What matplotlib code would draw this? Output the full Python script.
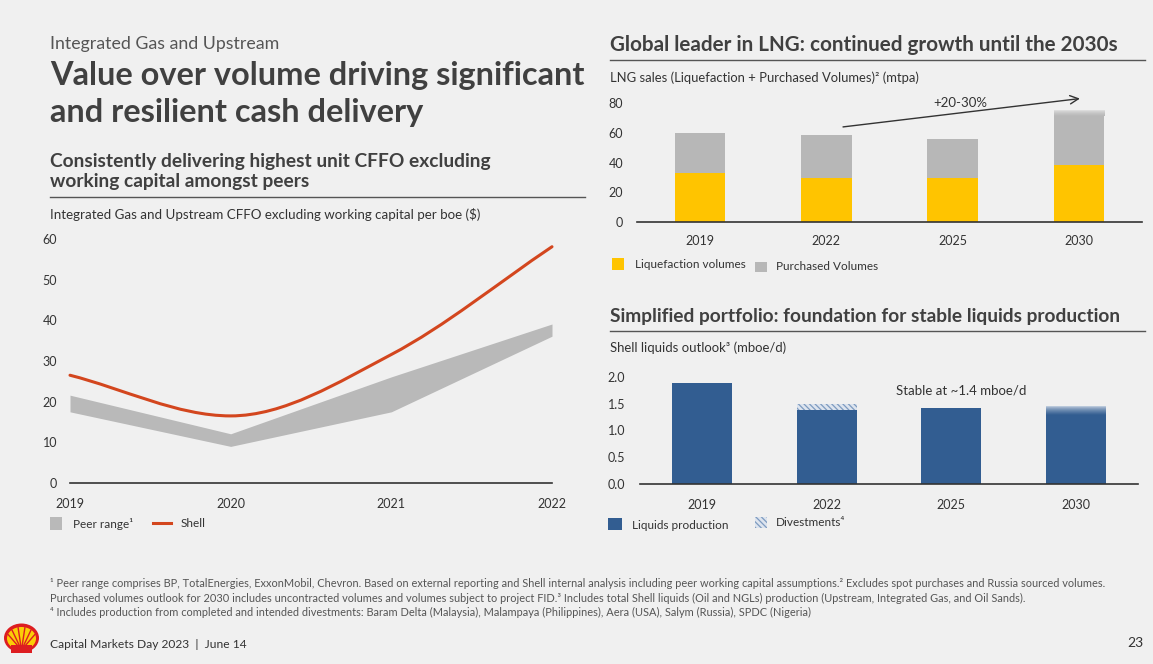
import numpy as np
import matplotlib
matplotlib.use('Agg')
import matplotlib.pyplot as plt
from matplotlib.path import Path
from matplotlib.patches import PathPatch, Rectangle, Ellipse
from matplotlib.colors import to_rgb

plt.rcParams['font.family'] = ['Lato', 'DejaVu Sans']
plt.rcParams['hatch.linewidth'] = 0.9

# ── Data ──────────────────────────────────────────────────────────────────────
cffo_years = [2019, 2020, 2021, 2022]
shell_cffo = [26.5, 16.5, 31.6, 58.1]
peer_low = [17.5, 9.0, 17.5, 36.1]
peer_high = [21.6, 12.1, 26.1, 39.1]
cffo_yticks = [0, 10, 20, 30, 40, 50, 60]

lng_years = ['2019', '2022', '2025', '2030']
lng_liquefaction = [32.9, 29.4, 29.8, 38.1]
lng_purchased = [26.9, 28.9, 26.0, 33.0]
lng_purchased_upside = [0, 0, 0, 4.0]      # faded top of the 2030 bar
lng_yticks = [0, 20, 40, 60, 80]

liq_years = ['2019', '2022', '2025', '2030']
liq_production = [1.88, 1.38, 1.42, 1.29]
liq_divestments = [0, 0.12, 0, 0]
liq_upside = [0, 0, 0, 0.16]               # faded top of the 2030 bar
liq_yticks = [0.0, 0.5, 1.0, 1.5, 2.0]

# ── Colours ───────────────────────────────────────────────────────────────────
BG = '#f0f0f0'
TXT = '#404040'
DARK = '#333333'
NOTE = '#555555'
RED = '#d3461e'
PEER = '#b9b9b9'
YELLOW = '#ffc400'
GREY = '#b7b7b7'
BLUE = '#325d91'
HATCH_FC = '#dde4ee'
HATCH_EC = '#7d9bc0'
LEGEND_FS = 8.5

W, H = 1153, 664
fig = plt.figure(figsize=(W / 100, H / 100), dpi=100, facecolor=BG)
renderer = fig.canvas.get_renderer()

# full-figure axes in pixel coordinates for text and decorations
bg = fig.add_axes([0, 0, 1, 1])
bg.set_xlim(0, W)
bg.set_ylim(H, 0)
bg.axis('off')


def px_axes(x0, y0, x1, y1):
    ax = fig.add_axes([x0 / W, 1 - y1 / H, (x1 - x0) / W, (y1 - y0) / H])
    ax.set_facecolor('none')
    for s in ['top', 'right', 'left']:
        ax.spines[s].set_visible(False)
    ax.spines['bottom'].set_color(DARK)
    ax.spines['bottom'].set_linewidth(1.2)
    ax.tick_params(length=0, labelsize=9, labelcolor=DARK)
    return ax


def fit_width(t, width):
    w = t.get_window_extent(renderer).width
    t.set_fontsize(t.get_fontsize() * width / w)
    return t


def txt(x, y, s, size=9.5, weight='normal', color=TXT, ha='left', va='baseline', fit=None):
    t = bg.text(x, y, s, fontsize=size, fontweight=weight, color=color, ha=ha, va=va)
    if fit:
        fit_width(t, fit)
    return t


def rule(x0, x1, y):
    bg.plot([x0, x1], [y, y], color='#555555', lw=1)


def smooth_path(x, y):
    # piecewise cubic through the points, flat at local extrema
    x = np.asarray(x, float)
    y = np.asarray(y, float)
    n = len(x)
    m = np.empty(n)
    m[0] = (y[1] - y[0]) / (x[1] - x[0])
    m[-1] = (y[-1] - y[-2]) / (x[-1] - x[-2])
    for i in range(1, n - 1):
        if (y[i] - y[i - 1]) * (y[i + 1] - y[i]) <= 0:
            m[i] = 0
        else:
            m[i] = (y[i + 1] - y[i - 1]) / (x[i + 1] - x[i - 1])
    verts = [(x[0], y[0])]
    codes = [Path.MOVETO]
    for i in range(n - 1):
        h = (x[i + 1] - x[i]) / 3
        verts += [(x[i] + h, y[i] + m[i] * h),
                  (x[i + 1] - h, y[i + 1] - m[i + 1] * h),
                  (x[i + 1], y[i + 1])]
        codes += [Path.CURVE4] * 3
    return Path(verts, codes)


def fade_bars(ax, xs, bottoms, heights, width, c_low, c_high):
    lo, hi = np.array(to_rgb(c_low)), np.array(to_rgb(c_high))
    t = np.linspace(0, 1, 64)[:, None] ** 0.6
    grad = hi * (1 - t) + lo * t
    img = np.repeat(grad[:, None, :], 2, axis=1)
    for x, b, h in zip(xs, bottoms, heights):
        if h > 0:
            ax.imshow(img, extent=(x - width / 2, x + width / 2, b, b + h),
                      aspect='auto', zorder=2, interpolation='bilinear')


# ── Left: CFFO per boe ────────────────────────────────────────────────────────
ax1 = px_axes(70, 239, 552, 483)
ax1.fill_between(cffo_years, peer_low, peer_high, color=PEER, lw=0, zorder=1)
ax1.add_patch(PathPatch(smooth_path(cffo_years, shell_cffo), fc='none', ec=RED,
                        lw=2.2, capstyle='round', clip_on=False, zorder=3))
ax1.set_xlim(2019, 2022)
ax1.set_ylim(0, 60)
ax1.set_xticks(cffo_years)
ax1.set_yticks(cffo_yticks)
ax1.tick_params(axis='y', pad=13 * 0.72)
ax1.tick_params(axis='x', pad=15 * 0.72)

# ── Top right: LNG sales ──────────────────────────────────────────────────────
ax2 = px_axes(637, 103, 1142, 222)
x2 = np.arange(len(lng_years))
ax2.bar(x2, lng_liquefaction, width=0.40, color=YELLOW, zorder=2)
ax2.bar(x2, lng_purchased, bottom=lng_liquefaction, width=0.40, color=GREY, zorder=2)
fade_bars(ax2, x2, np.add(lng_liquefaction, lng_purchased), lng_purchased_upside,
          0.40, GREY, '#e6e6e6')
ax2.set_xlim(-0.5, 3.5)
ax2.set_ylim(0, 80)
ax2.set_xticks(x2, lng_years)
ax2.set_yticks(lng_yticks)
ax2.tick_params(axis='y', pad=14 * 0.72)
ax2.tick_params(axis='x', pad=13.5 * 0.72)
ax2.annotate('', xy=(3.03, 83.2), xytext=(1.11, 63.7), annotation_clip=False,
             arrowprops=dict(arrowstyle='->,head_length=0.6,head_width=0.3',
                             color=DARK, lw=1))
fit_width(ax2.text(2.06, 79.8, '+20-30%', ha='center', va='center',
                   fontsize=9.5, color=DARK), 54)

# ── Bottom right: liquids outlook ─────────────────────────────────────────────
ax3 = px_axes(640, 376.7, 1138, 484)
x3 = np.arange(len(liq_years))
ax3.bar(x3, liq_production, width=0.48, color=BLUE, zorder=2)
ax3.bar(x3, liq_divestments, bottom=liq_production, width=0.48, facecolor=HATCH_FC,
        edgecolor=HATCH_EC, hatch='\\\\\\\\\\\\', linewidth=0, zorder=2)
fade_bars(ax3, x3, liq_production, liq_upside, 0.48, BLUE, '#d3dce8')
ax3.set_xlim(-0.5, 3.5)
ax3.set_ylim(0, 2.0)
ax3.set_xticks(x3, liq_years)
ax3.set_yticks(liq_yticks, [f'{v:.1f}' for v in liq_yticks])
ax3.tick_params(axis='y', pad=15 * 0.72)
ax3.tick_params(axis='x', pad=14.8 * 0.72)
fit_width(ax3.text(2.08, 1.74, 'Stable at ~1.4 mboe/d', ha='center', va='center',
                   fontsize=9.5, color=DARK), 131)

# ── Titles ────────────────────────────────────────────────────────────────────
txt(50, 49.5, 'Integrated Gas and Upstream', 12, color=NOTE, fit=228)
t = txt(50, 85, 'Value over volume driving significant', 20, weight='bold', fit=535)
txt(50, 121.7, 'and resilient cash delivery', t.get_fontsize(), weight='bold')
t = txt(50, 166.7, 'Consistently delivering highest unit CFFO excluding', 13,
        weight='bold', fit=440)
txt(50, 186.7, 'working capital amongst peers', t.get_fontsize(), weight='bold')
rule(50, 585, 196.5)
txt(50, 219, 'Integrated Gas and Upstream CFFO excluding working capital per boe ($)',
    9, color=DARK, fit=430)

txt(610, 50.7, 'Global leader in LNG: continued growth until the 2030s', 13,
    weight='bold', fit=508)
rule(610, 1145, 60)
txt(610, 81.7, 'LNG sales (Liquefaction + Purchased Volumes)\u00b2 (mtpa)', 9,
    color=DARK, fit=310)
txt(610, 321.7, 'Simplified portfolio: foundation for stable liquids production', 13,
    weight='bold', fit=512)
rule(610, 1145, 331)
txt(610, 351.7, 'Shell liquids outlook\u00b3 (mboe/d)', 9, color=DARK, fit=177)

# ── Legends ───────────────────────────────────────────────────────────────────
bg.add_patch(Rectangle((612, 258), 12, 12, color=YELLOW, lw=0))
txt(635, 265, 'Liquefaction volumes', LEGEND_FS, color=DARK, va='center')
bg.add_patch(Rectangle((755, 262), 12, 10, color=GREY, lw=0))
txt(776, 267, 'Purchased Volumes', LEGEND_FS, color=DARK, va='center')

bg.add_patch(Rectangle((49.6, 517), 12.8, 13, color=PEER, lw=0))
txt(73.4, 523.5, 'Peer range\u00b9', LEGEND_FS, color=DARK, va='center')
bg.plot([153, 171], [522.5, 522.5], color=RED, lw=2.2)
txt(181, 523.5, 'Shell', LEGEND_FS, color=DARK, va='center')

bg.add_patch(Rectangle((608, 518), 14, 12, color=BLUE, lw=0))
txt(632, 525.5, 'Liquids production', LEGEND_FS, color=DARK, va='center')
bg.add_patch(Rectangle((755, 517), 12, 11, facecolor=HATCH_FC, edgecolor=HATCH_EC,
                       hatch='\\\\\\\\\\\\', lw=0))
txt(776, 523, 'Divestments\u2074', LEGEND_FS, color=DARK, va='center')

# ── Footnotes and footer ──────────────────────────────────────────────────────
t = txt(50, 583.5, '\u00b9 Peer range comprises BP, TotalEnergies, ExxonMobil, Chevron. '
        'Based on external reporting and Shell internal analysis including peer working '
        'capital assumptions.\u00b2 Excludes spot purchases and Russia sourced volumes.',
        7, color=NOTE, va='center', fit=1055)
fs = t.get_fontsize()
txt(50, 598, 'Purchased volumes outlook for 2030 includes uncontracted volumes and volumes '
    'subject to project FID.\u00b3 Includes total Shell liquids (Oil and NGLs) production '
    '(Upstream, Integrated Gas, and Oil Sands).', fs, color=NOTE, va='center')
txt(50, 612.5, '\u2074 Includes production from completed and intended divestments: '
    'Baram Delta (Malaysia), Malampaya (Philippines), Aera (USA), Salym (Russia), '
    'SPDC (Nigeria)', fs, color=NOTE, va='center')

txt(50, 644, 'Capital Markets Day 2023  |  June 14', 8.5, color=DARK, va='center', fit=195)
txt(1143, 643, '23', 10, color=DARK, ha='right', va='center')

# simple pecten mark
bg.add_patch(Ellipse((21.5, 638), 35, 29, color='#dd1d21', lw=0))
bg.add_patch(Ellipse((21.5, 638.5), 29, 23, color='#fbce07', lw=0))
for a in np.linspace(200, 340, 6):
    r = np.radians(a)
    bg.plot([21.5, 21.5 + 14 * np.cos(r)], [650, 638.5 + 11 * np.sin(r)],
            color='#dd1d21', lw=1)
bg.add_patch(Rectangle((11, 645), 21, 8, color='#dd1d21', lw=0))

fig.savefig('out.png', dpi=100, facecolor=BG)
